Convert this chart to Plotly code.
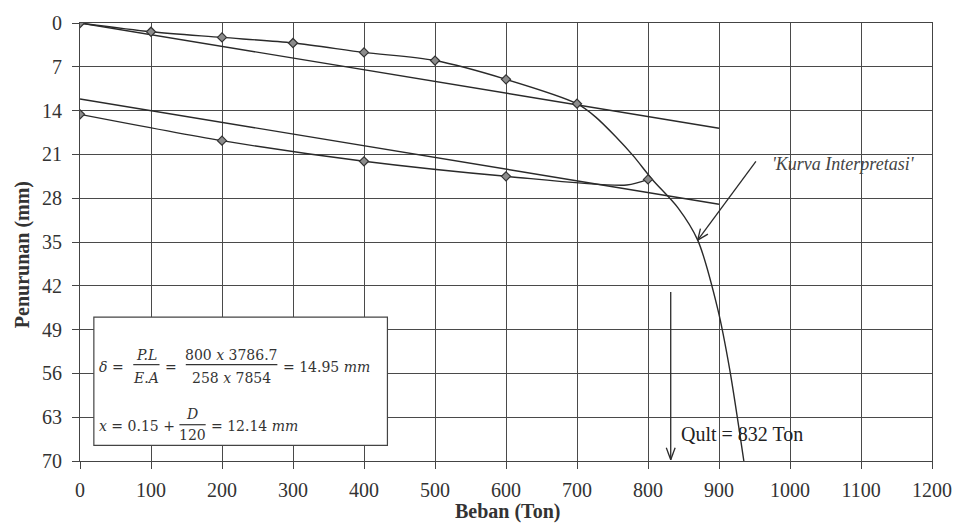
import plotly.graph_objects as go

# Load test readings (Ton, mm)
load_x = [0, 100, 200, 300, 400, 500, 600, 700]
load_y = [0, 1.4, 2.3, 3.2, 4.7, 6.0, 9.0, 12.9]

# Unloading readings
unload_x = [800, 600, 400, 200, 0]
unload_y = [25.0, 24.5, 22.1, 18.8, 14.6]

# Hand-drawn return curve from the 800 Ton reading (sags just past the peak)
return_x = [800, 770, 600, 400, 200, 0]
return_y = [25.0, 25.9, 24.5, 22.1, 18.8, 14.6]

# Interpretation curve continuing beyond the last loading reading
interp_x = [700, 726, 754, 779, 806, 842, 870, 898, 915, 935]
interp_y = [12.9, 15.0, 18.1, 21.2, 25.0, 29.5, 34.7, 45.6, 55.3, 70.0]

# Elastic line delta = P.L / E.A and the offset line (x = 12.14 mm)
elastic_x = [0, 900]
elastic_y = [0, 16.82]
offset_y = [12.14, 28.96]

q_ult = 832
x_ticks = [0, 100, 200, 300, 400, 500, 600, 700, 800, 900, 1000, 1100, 1200]
y_ticks = [0, 7, 14, 21, 28, 35, 42, 49, 56, 63, 70]

INK = "#2a2a2a"
SERIF = "Liberation Serif, Times New Roman, serif"
MATH = "DejaVu Serif, serif"

# plot-area geometry (pixels per data unit), used to shape the open arrowheads
W_PX, H_PX = 964 - 80 - 25, 527 - 15 - 66
SX, SY = W_PX / 1200.0, H_PX / 70.0

fig = go.Figure()

line_style = dict(color=INK, width=1.4)

fig.add_trace(go.Scatter(x=elastic_x, y=elastic_y, mode="lines", line=line_style, hoverinfo="skip"))
fig.add_trace(go.Scatter(x=elastic_x, y=offset_y, mode="lines", line=line_style, hoverinfo="skip"))
fig.add_trace(go.Scatter(x=load_x + interp_x[1:], y=load_y + interp_y[1:], mode="lines",
                         line=dict(color=INK, width=1.4, shape="spline", smoothing=0.8), hoverinfo="skip"))
fig.add_trace(go.Scatter(x=return_x, y=return_y, mode="lines",
                         line=dict(color=INK, width=1.4, shape="spline", smoothing=0.8), hoverinfo="skip"))
fig.add_trace(go.Scatter(x=load_x + unload_x, y=load_y + unload_y, mode="markers",
                         marker=dict(symbol="diamond", size=7, color="#8c8c8c",
                                     line=dict(color="#333333", width=1.2)), hoverinfo="skip"))

shapes = []
# formula box (white fill hides the grid behind it)
shapes.append(dict(type="rect", xref="x", yref="y", x0=19.5, x1=433, y0=47.0, y1=67.5,
                   fillcolor="white", line=dict(color="#444444", width=1.2), layer="above"))
# fraction bars
for x0, x1, y in [(75, 112, 54.6), (149, 278, 54.6), (140, 177, 64.2)]:
    shapes.append(dict(type="line", xref="x", yref="y", x0=x0, x1=x1, y0=y, y1=y,
                       line=dict(color="#333333", width=1.2), layer="above"))


def open_arrow(x0, y0, x1, y1, barb=11, spread=0.45):
    """Straight arrow from (x0, y0) to (x1, y1) with an open V head."""
    import math
    out = [dict(type="line", xref="x", yref="y", x0=x0, y0=y0, x1=x1, y1=y1,
                line=dict(color=INK, width=1.3))]
    dx, dy = (x0 - x1) * SX, (y0 - y1) * SY
    ang = math.atan2(dy, dx)
    for s in (-spread, spread):
        bx = x1 + barb * math.cos(ang + s) / SX
        by = y1 + barb * math.sin(ang + s) / SY
        out.append(dict(type="line", xref="x", yref="y", x0=x1, y0=y1, x1=bx, y1=by,
                        line=dict(color=INK, width=1.3)))
    return out


shapes += open_arrow(q_ult, 43, q_ult, 69.8, barb=13, spread=0.35)
shapes += open_arrow(952, 22.1, 870, 34.7, barb=12, spread=0.4)

ann = []


def txt(x, y, s, size=14, anchor="center", color="#333333", font=MATH):
    ann.append(dict(x=x, y=y, xref="x", yref="y", text=s, showarrow=False, xanchor=anchor,
                    yanchor="middle", font=dict(family=font, size=size, color=color)))


# δ = P.L / E.A = 800 x 3786.7 / 258 x 7854 = 14.95 mm
txt(24, 55.0, "<i>δ</i> =", anchor="left")
txt(93.6, 53.0, "<i>P.L</i>")
txt(93.6, 56.8, "<i>E.A</i>")
txt(128.5, 55.0, "=")
txt(213, 53.0, "800 <i>x</i> 3786.7")
txt(213, 56.8, "258 <i>x</i> 7854")
txt(283.5, 55.0, "= 14.95 <i>mm</i>", anchor="left")
# x = 0.15 + D/120 = 12.14 mm
txt(24, 64.4, "<i>x</i> = 0.15 +", anchor="left")
txt(158, 62.5, "<i>D</i>")
txt(158, 65.9, "120")
txt(181.5, 64.4, "= 12.14 <i>mm</i>", anchor="left")

# Qult label
txt(843, 65.7, "Qult = 832 Ton", size=20, anchor="left", color="#222222", font=SERIF)

# Interpretation curve label
txt(972, 22.6, "<i>'Kurva Interpretasi'</i>", size=18, anchor="left", color="#444444", font=SERIF)

# Axis titles
ann.append(dict(x=(511 - 80) / 859, y=-0.115, xref="paper", yref="paper", text="<b>Beban (Ton)</b>",
                showarrow=False, xanchor="center", yanchor="middle",
                font=dict(family=SERIF, size=20, color="#333333")))
ann.append(dict(x=-0.068, y=0.47, xref="paper", yref="paper", text="<b>Penurunan (mm)</b>",
                showarrow=False, xanchor="center", yanchor="middle", textangle=-90,
                font=dict(family=SERIF, size=20, color="#333333")))

axis_common = dict(showgrid=True, gridcolor="#4a4a4a", gridwidth=1, zeroline=False,
                   showline=True, linecolor="#444444", linewidth=1.2, mirror=True,
                   ticks="outside", ticklen=7, tickcolor="#444444",
                   tickfont=dict(family=SERIF, size=20, color="#333333"))

fig.update_layout(
    width=964, height=527,
    margin=dict(l=80, r=25, t=15, b=66),
    paper_bgcolor="white", plot_bgcolor="white",
    showlegend=False,
    shapes=shapes, annotations=ann,
    xaxis=dict(range=[0, 1200], tickvals=x_ticks, ticklabelstandoff=4, **axis_common),
    yaxis=dict(range=[70, 0], tickvals=y_ticks, ticklabelstandoff=6, **axis_common),
)

fig.write_html("out.html")
